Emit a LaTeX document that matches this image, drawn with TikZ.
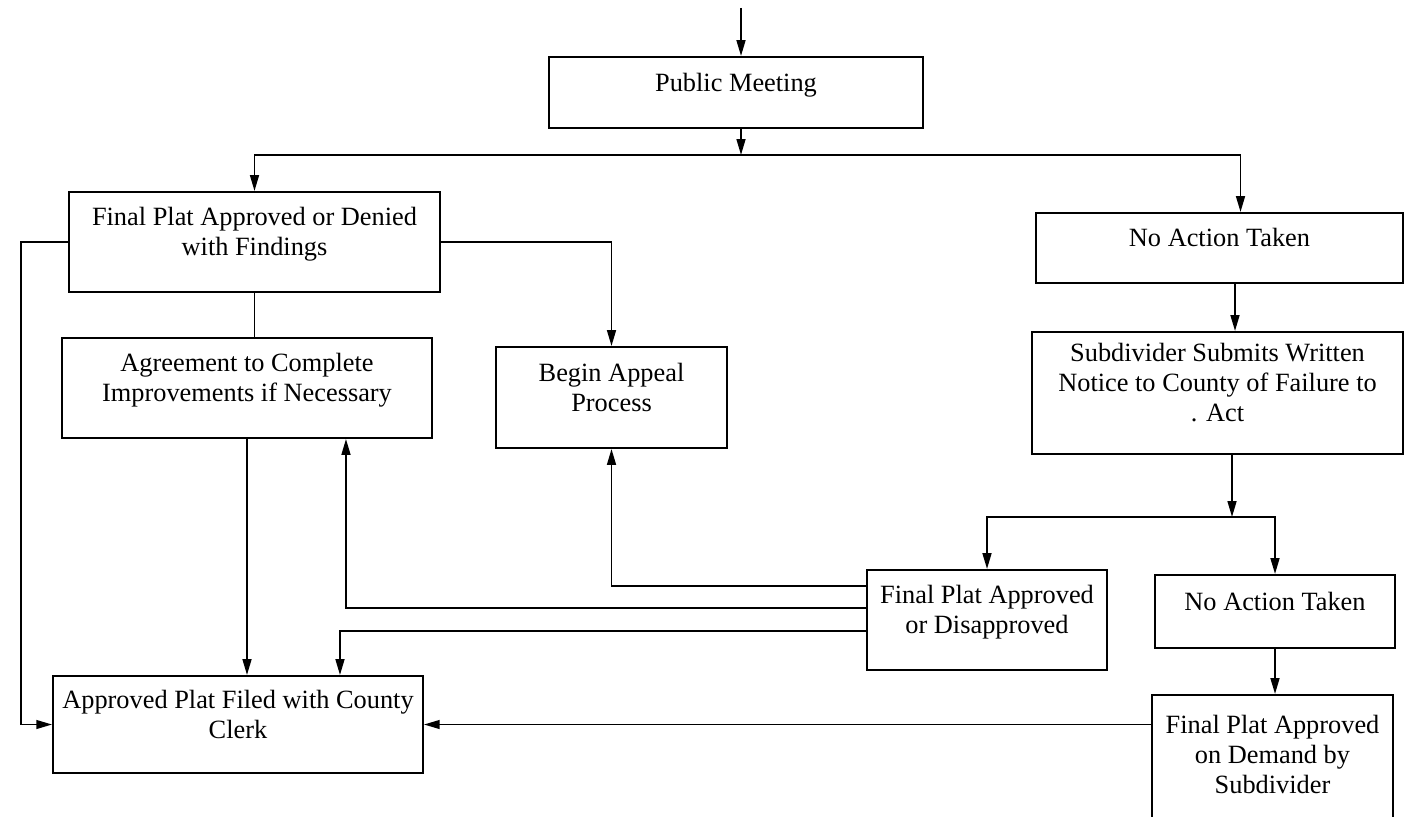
\documentclass[tikz,border=0pt]{standalone}
\usepackage{fontspec}
\setmainfont{Liberation Serif}
\usetikzlibrary{arrows.meta}

\begin{document}
\begin{tikzpicture}[x=0.02cm, y=-0.02cm, line width=1.1pt,
       >={Triangle[length=9pt,width=5pt]},
       flowbox/.style={draw, align=center, inner sep=2pt, text depth=12pt,
         font=\fontsize{15}{17}\selectfont}]
       \useasboundingbox (0,0) rectangle (1405,817);
       \clip (0,0) rectangle (1405,817);

       \node[flowbox, minimum width=7.48cm, minimum height=1.42cm] (meeting) at (736,92.5) {Public Meeting};
       \node[flowbox, minimum width=7.42cm, minimum height=2cm] (denied) at (254.5,242) {Final Plat Approved or Denied\\with Findings};
       \node[flowbox, minimum width=7.34cm, minimum height=1.4cm] (noaction) at (1219.5,248) {No Action Taken};
       \node[flowbox, minimum width=7.4cm, minimum height=2cm] (agreement) at (247,388) {Agreement to Complete\\Improvements if Necessary};
       \node[flowbox, minimum width=4.62cm, minimum height=2.02cm] (appeal) at (611.5,397.5) {Begin Appeal\\Process};
       \node[flowbox, minimum width=7.42cm, minimum height=2.44cm] (notice) at (1217.5,393) {Subdivider Submits Written\\Notice to County of Failure to\\. Act};
       \node[flowbox, minimum width=4.8cm, minimum height=2cm] (decision) at (987,620) {Final Plat Approved\\or Disapproved};
       \node[flowbox, minimum width=4.8cm, minimum height=1.46cm] (noaction2) at (1275,611.5) {No Action Taken};
       \node[flowbox, minimum width=7.4cm, minimum height=1.94cm] (filed) at (238,724.5) {Approved Plat Filed with County\\Clerk};
       \node[flowbox, minimum width=4.82cm, minimum height=2.8cm] (demand) at (1272.5,765) {Final Plat Approved\\on Demand by\\Subdivider};

       \coordinate (start) at (741,8);
       \coordinate (split) at (741,155);
       \coordinate (split2) at (1232,517);

       \draw [->] (start) -- (start |- meeting.north);
       \draw [->] (meeting.south -| split) -- (split);
       \draw [->] (split) -| (denied);
       \draw [->] (split) -| ([xshift=0.42cm]noaction.north);

       \draw (denied.south) -- (denied.south |- agreement.north);
       \draw [->] (denied.east) -| (appeal);
       \draw [->] (denied.west) -- ++(-47,0) |- (filed.west);
       \draw [->] (agreement.south) -- (agreement.south |- filed.north);

       \draw [->] ([xshift=0.31cm]noaction.south) -- ([xshift=0.31cm]noaction.south |- notice.north);
       \draw [->] (notice.south -| split2) -- (split2);
       \draw [->] (split2) -| (decision);
       \draw [->] (split2) -| (noaction2);
       \draw [->] (noaction2.south) -- (noaction2.south |- demand.north);

       \draw [->] ([yshift=0.68cm]decision.west) -| (appeal.south);
       \draw [->] ([yshift=0.24cm]decision.west) -| ([xshift=1.98cm]agreement.south);
       \draw [->] ([yshift=-0.22cm]decision.west) -| ([xshift=2.04cm]filed.north);
       \draw [->] (filed.east -| demand.west) -- (filed.east);
    \end{tikzpicture}
\end{document}
